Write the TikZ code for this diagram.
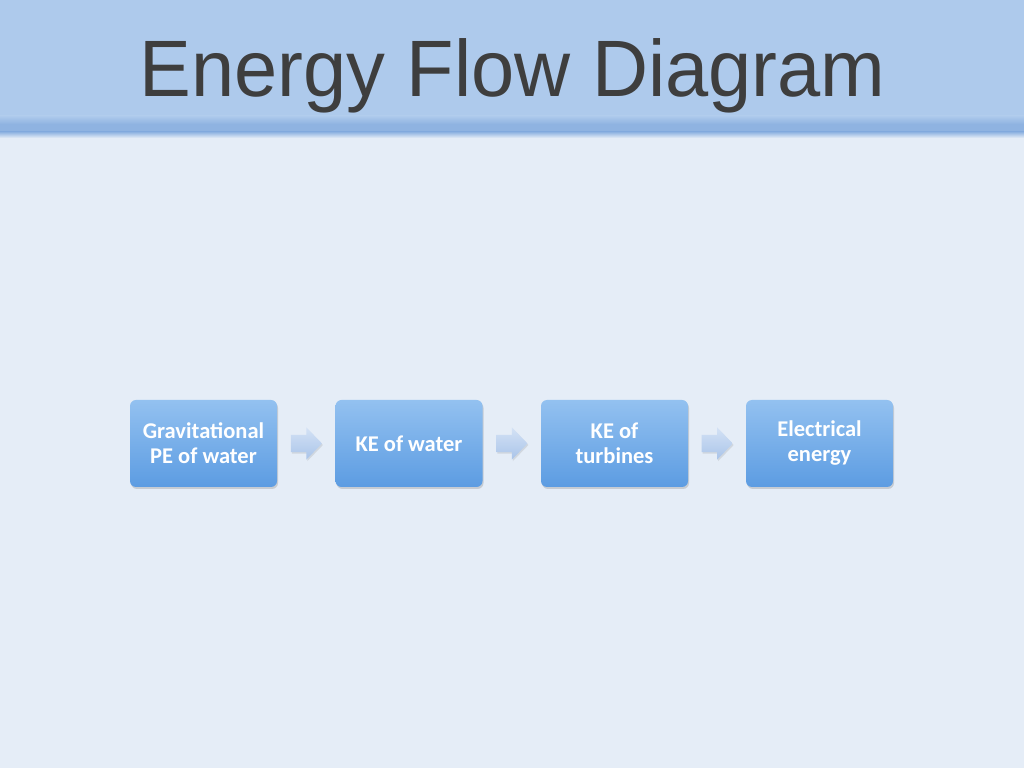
\documentclass[tikz,border=0pt]{standalone}
\usepackage{fontspec}
\setmainfont{Liberation Sans}
\newfontfamily\boxfont{Carlito}
\usetikzlibrary{shapes.arrows,shadows,calc}
\definecolor{pagebg}{HTML}{E5EDF7}
\definecolor{headbg}{HTML}{AECAEC}
\definecolor{headstrip}{HTML}{8FB3E1}
\definecolor{titlegray}{HTML}{3E3E3E}
\definecolor{boxtop}{HTML}{93C1F0}
\definecolor{boxbot}{HTML}{5C9CE2}
\definecolor{arrtop}{HTML}{D4E2F5}
\definecolor{arrbot}{HTML}{A9C4E9}
\tikzset{
  stagebox/.style={minimum width=147pt, minimum height=87pt, inner sep=2pt,
    rounded corners=6pt, top color=boxtop, bottom color=boxbot,
    drop shadow={shadow xshift=1pt, shadow yshift=-2pt, opacity=0.3},
    text=white, align=center,
    font=\boxfont\bfseries\fontsize{22.5}{25}\selectfont},
  flowarrow/.style={single arrow, minimum width=32pt, minimum height=31pt,
    single arrow head extend=7.5pt, single arrow tip angle=92,
    inner xsep=0pt, inner ysep=8.5pt, xshift=-4pt,
    top color=arrtop, bottom color=arrbot,
    drop shadow={shadow xshift=1pt, shadow yshift=-1.5pt, opacity=0.2}}
}
\begin{document}
\begin{tikzpicture}[x=1pt,y=1pt]
\useasboundingbox (0,0) rectangle (1024,768);
\fill[pagebg] (0,0) rectangle (1024,768);
\fill[headbg] (0,640) rectangle (1024,768);
\shade[top color=headbg, bottom color=headstrip] (0,644) rectangle (1024,652);
\fill[headstrip] (0,636) rectangle (1024,644);
\shade[top color=headstrip, bottom color=pagebg] (0,630) rectangle (1024,636);
\node[anchor=base, inner sep=0pt, text=titlegray,
  font=\fontsize{80}{96}\selectfont] (title) at (512.5,671)
  {\scalebox{0.97}[1]{Energy Flow Diagram}};
\node[stagebox] (b1) at (203.5,324.5) {Gravitational\\PE of water};
\node[stagebox] (b2) at (409,324.5) {KE of water};
\node[stagebox] (b3) at (614.5,324.5) {KE of\\turbines};
\node[stagebox] (b4) at (819.5,324.5) {Electrical\\energy};
\node[flowarrow] (a1) at ($(b1.east)!0.5!(b2.west)$) {};
\node[flowarrow] (a2) at ($(b2.east)!0.5!(b3.west)$) {};
\node[flowarrow] (a3) at ($(b3.east)!0.5!(b4.west)$) {};
\end{tikzpicture}
\end{document}
